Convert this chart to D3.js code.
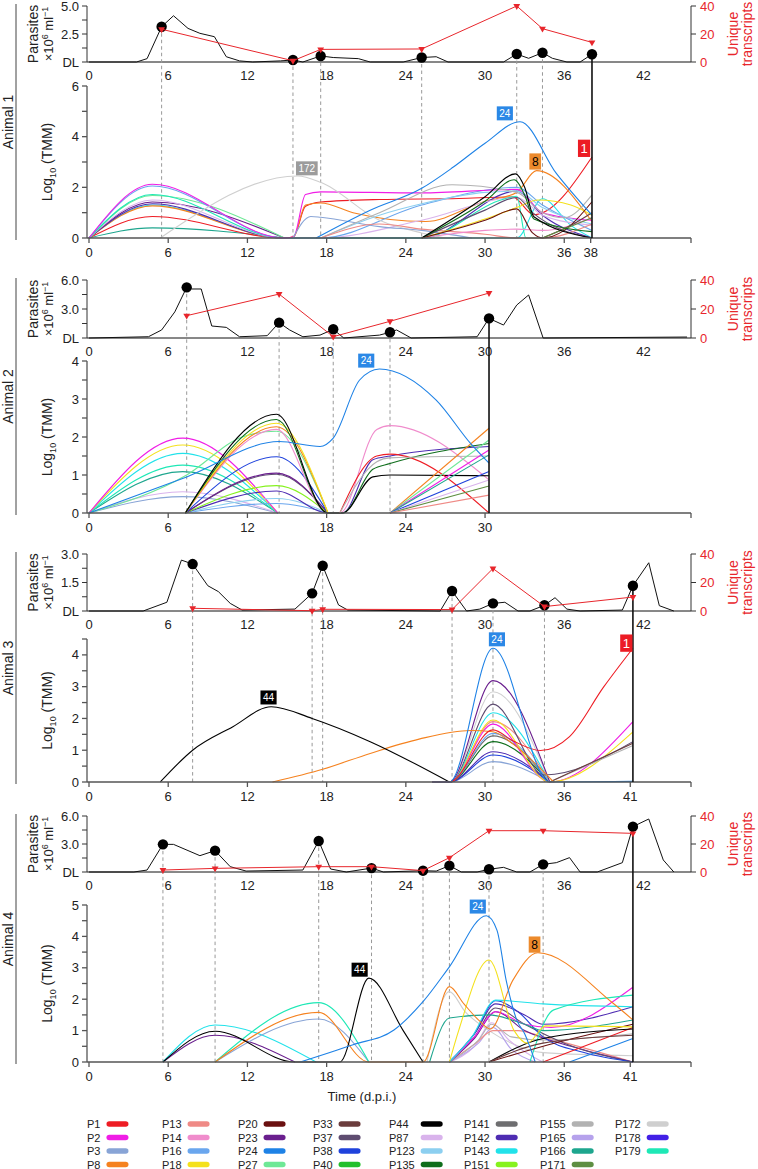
<!DOCTYPE html>
<html><head><meta charset="utf-8">
<script src="https://cdn.jsdelivr.net/npm/d3@7"></script>
<style>
body{margin:0;background:#fff}
svg{display:block}
text{font-family:"Liberation Sans",Arial,Helvetica,sans-serif;fill:#222}
</style></head>
<body><svg id="c" width="758" height="1169"></svg>
<script>
// ---------------- DATA ----------------
const legendIds = ["P1","P2","P3","P8","P13","P14","P16","P18","P20","P23","P24","P27","P33","P37","P38","P40","P44","P87","P123","P135","P141","P142","P143","P151","P155","P165","P166","P171","P172","P178","P179"];
const legendColors = ["#ee1c24","#f01de6","#88a4d6","#f5821f","#ef8a86","#f08ccc","#6aa6ee","#f4e11c","#6a1010","#6a1f8e","#1e82e6","#6ee896","#6b3c3c","#5e4c70","#1f42dc","#22c02c","#000000","#d9b3ec","#8ccff0","#0f6e1c","#6e6e70","#4e2cb2","#22e2ea","#86f21e","#b2b2b2","#b6a2ec","#1ea68e","#5e8e42","#cfcfcf","#4220e6","#1ee8b6"];

const animalNames = ["Animal 1","Animal 2","Animal 3","Animal 4"];
const topXTicks = [0,6,12,18,24,30,36,42];
const rightTicks = [0,20,40];

// Animal 1
const a1TopTicks = [[0,"DL"],[2.5,"2.5"],[5,"5.0"]];
const a1BotTicks = [0,2,4,6];
const a1XTicks = [0,6,12,18,24,30,36,38];
const a1ParDays = [0,3.6,4.4,5.5,6.4,7.5,8.4,9.5,10.4,11.4,12.4,14.5,15.45,16.2,17.55,18.5,20.4,21.3,23.8,25.2,26.3,27.2,31.4,32.4,33.3,34.35,35.1,36.2,37.2,38.1];
const a1ParVals = [0,0,0.3,3.15,4.13,3.0,2.56,2.26,0.47,0.1,0,0.1,0.18,0,0.54,0.4,0.3,0,0,0.4,0.47,0,0,0.71,0.33,0.83,0.33,0,0,0.69];
const a1SampleDays = [5.5,15.45,17.55,25.2,32.4,34.35,38.1];
const a1DotVals = [3.15,0.18,0.54,0.4,0.71,0.83,0.69];
const a1Unique = [23.4,0.9,9,9.3,40,23.8,14];
const a1Series = [
 ["P166",[[0,0],[4.8,0.4],[14.8,0]]],
 ["P1",[[0,0],[4.8,0.85],[14.8,0],[15.5,0.05],[16.4,1.25],[17.55,1.42],[22,1.52],[28,1.56],[32.1,1.62],[33.7,0.92],[38.1,3.2]]],
 ["P143",[[0,0],[4.8,1.3],[14.8,0],[32.4,0],[34.35,1.55],[36.5,0.5],[38.1,0]]],
 ["P8",[[0,0],[4.8,1.27],[14.8,0],[15.5,0.05],[16.4,1.3],[17.55,1.38],[20,1.0],[25.5,0.65],[30,1.45],[32.4,1.8],[33.9,2.66],[38.1,0.65]]],
 ["P142",[[0,0],[4.8,1.35],[14.8,0],[25.2,0],[32.4,1.85],[34.35,0.9],[38.1,0]]],
 ["P23",[[0,0],[4.8,1.42],[14.8,0]]],
 ["P87",[[0,0],[4.8,1.5],[14.8,0],[17.55,0],[25.2,0.7],[32.4,1.6],[34.35,0.9],[38.1,0.5]]],
 ["P27",[[0,0],[4.8,1.68],[14.8,0]]],
 ["P179",[[0,0],[4.8,1.72],[14.8,0],[25.2,0],[31.2,1.5],[32.4,1.65],[33.1,0],[34.35,0]]],
 ["P16",[[0,0],[4.8,2.05],[14.8,0],[17.55,0],[25.2,1.3],[32.4,2.0],[34.35,1.3],[38.1,0.3]]],
 ["P2",[[0,0],[4.8,2.12],[14.8,0],[15.5,0.05],[16.4,1.72],[17.55,1.82],[25.2,1.78],[32.4,1.92],[34.35,1.0],[38.1,0.7]]],
 ["P172",[[5.4,0],[15.8,2.45],[17.55,2.2],[22,0.7],[25.2,0.2],[27,0]]],
 ["P3",[[15.45,0],[16.8,0.85],[17.55,0.82],[22,0.45],[25.2,0.3],[29,0]]],
 ["P123",[[17.55,0],[22,0.9],[25.2,1.35],[30,1.8],[32.4,1.85],[34.35,1.2],[38.1,0.55]]],
 ["P155",[[17.55,0],[22,1.0],[27.5,2.1],[32.4,1.8],[34.35,1.0],[36,0.8],[38.1,1.7]]],
 ["P13",[[17.55,0],[22,0.55],[25.2,0.35],[30,0.15],[32.4,0],[34.35,0],[38.1,0.55]]],
 ["P14",[[25.2,0],[30,0.3],[32.4,0.35],[34.35,0.3],[38.1,0.8]]],
 ["P18",[[25.2,0],[30,0.75],[32.4,1.2],[34,1.5],[36.5,1.3],[38.1,0.9]]],
 ["P37",[[25.2,0],[30,1.1],[32.4,1.6],[33.6,1.0],[38.1,0]]],
 ["P20",[[25.2,0],[30,0.7],[32.4,1.15],[33.6,0.2],[34.35,0],[36,0.3],[38.1,1.43]]],
 ["P33",[[34.35,0],[36.5,0.5],[38.1,1.0]]],
 ["P171",[[34.35,0],[38.1,0.8]]],
 ["P135",[[25.2,0],[30,1.45],[32.2,2.3],[33.0,1.7],[33.7,0.75],[38.1,0.25]]],
 ["P44",[[25.2,0],[30,1.63],[32.3,2.53],[33.0,2.0],[33.7,0.84],[38.1,0]]],
 ["P24",[[17.2,0],[21.3,1.1],[25.2,1.96],[27.6,2.8],[30,3.74],[32.65,4.59],[35.4,2.55],[38.1,0.9]]]
];
const a1Labels = [["172",16.5,2.75],["24",31.5,4.92],["8",33.8,3.02],["1",37.5,3.54]];

// Animal 2
const a2TopTicks = [[0,"DL"],[3,"3.0"],[6,"6.0"]];
const a2BotTicks = [0,1,2,3,4];
const a2XTicks = [0,6,12,18,24,30];
const a2ParDays = [0,4.5,5.5,6.5,7.4,7.8,8.5,9.3,10.4,11.4,13.5,14.4,15.2,16.2,17.5,18.5,19.3,22.0,22.8,23.3,24.4,29.4,30.3,31.4,32.4,33.3,34.4,45.3];
const a2ParVals = [0,0.13,0.83,2.7,5.24,5.07,5.07,1.24,1.1,0.13,0.24,1.59,0.83,0.13,0.3,0.9,0,0.3,0.59,0.83,0,0.13,2.03,1.34,3.41,4.45,0,0.1];
const a2SampleDays = [7.4,14.4,18.5,22.8,30.3];
const a2DotVals = [5.24,1.59,0.9,0.59,2.03];
const a2Unique = [15.4,30.3,0.9,11.5,31];
const a2Series = [
 ["P3",[[0,0],[7.1,0.43],[14.3,0]]],
 ["P87",[[0,0],[7.1,0.56],[14.3,0]]],
 ["P166",[[0,0],[7.1,1.09],[14.3,0]]],
 ["P179",[[0,0],[7.1,1.26],[14.3,0]]],
 ["P143",[[0,0],[7.1,1.57],[14.3,0]]],
 ["P18",[[0,0],[7.1,1.79],[14.3,0]]],
 ["P2",[[0,0],[7.1,1.97],[14.3,0]]],
 ["P16",[[7.3,0],[14.2,0.25],[18.1,0]]],
 ["P123",[[7.3,0],[14.2,0.38],[18.1,0]]],
 ["P142",[[7.3,0],[14.2,0.58],[18.1,0],[19.2,0],[21.5,1.4],[22.8,1.5],[30.3,1.75]]],
 ["P151",[[7.3,0],[14.2,0.72],[18.1,0]]],
 ["P37",[[7.3,0],[14.2,1.02],[18.1,0]]],
 ["P23",[[7.3,0],[14.2,1.05],[18.1,0]]],
 ["P38",[[7.3,0],[14.2,1.48],[18.1,0]]],
 ["P27",[[0,0],[7.4,1.0],[11.6,2.0],[14.2,2.15],[18.1,0]]],
 ["P14",[[7.3,0],[14.2,2.2],[18.1,0],[19.0,0],[21.8,2.2],[22.8,2.3],[30.3,0.87]]],
 ["P8",[[7.3,0],[14.2,2.27],[18.1,0]]],
 ["P18",[[7.3,0],[14.2,2.36],[18.1,0]]],
 ["P135",[[7.3,0],[14.2,2.46],[18.1,0],[19.2,0],[21.5,1.15],[22.8,1.3],[30.3,1.83]]],
 ["P44",[[7.3,0],[14.2,2.6],[18.1,0],[19.2,0],[21.5,0.95],[22.8,1.0],[30.3,0.98]]],
 ["P1",[[19.0,0],[21.8,1.5],[22.8,1.55],[30.3,0]]],
 ["P155",[[19.0,0],[21.8,1.35],[22.8,1.45],[30.3,1.5]]],
 ["P8",[[22.8,0],[30.3,2.23]]],
 ["P27",[[22.8,0],[30.3,1.92]]],
 ["P2",[[22.8,0],[30.3,1.66]]],
 ["P166",[[22.8,0],[30.3,1.53]]],
 ["P38",[[22.8,0],[30.3,1.09]]],
 ["P87",[[22.8,0],[30.3,0.87]]],
 ["P171",[[22.8,0],[30.3,0.71]]],
 ["P13",[[22.8,0],[30.3,0.47]]],
 ["P24",[[0,0],[7.4,0.95],[14.4,1.88],[17.5,1.75],[18.5,1.97],[20.5,3.5],[22.0,3.79],[26.3,2.97],[28.9,1.83],[30.3,1.31]]]
];
const a2Labels = [["24",21.0,4.01]];

// Animal 3
const a3TopTicks = [[0,"DL"],[1.5,"1.5"],[3,"3.0"]];
const a3BotTicks = [0,1,2,3,4];
const a3XTicks = [0,6,12,18,24,30,36,41];
const a3ParDays = [0,4.1,5.9,7.0,7.85,9.0,9.8,10.7,11.6,15.6,16.9,17.7,18.9,19.6,26.6,27.5,28.6,29.6,30.6,31.5,32.5,33.4,34.5,35.3,36.2,37.2,40.4,41.2,42.4,43.2,44.3];
const a3ParVals = [0,0,0.46,2.68,2.47,1.33,1.02,0.4,0.05,0.1,0.93,2.38,0.32,0.05,0,1.05,0,0.1,0.4,0.46,0,0,0.3,0.7,0.1,0,0.05,1.33,2.54,0.28,0];
const a3SampleDays = [7.85,16.9,17.7,27.5,30.6,34.5,41.2];
const a3DotVals = [2.47,0.93,2.38,1.05,0.4,0.3,1.33];
const a3Unique = [1.9,0.2,1.2,1.0,29.8,3.1,9.8];
const a3Series = [
 ["P3",[[26,0],[27.3,0],[30.6,0.64],[34.9,0]]],
 ["P38",[[26,0],[27.3,0],[30.6,0.85],[34.9,0]]],
 ["P142",[[26,0],[27.3,0],[30.6,0.95],[34.9,0]]],
 ["P135",[[26,0],[27.3,0],[30.6,1.27],[34.9,0]]],
 ["P141",[[26,0],[27.3,0],[30.6,1.45],[34.9,0]]],
 ["P16",[[26,0],[27.3,0],[30.6,1.53],[34.9,0]]],
 ["P13",[[26,0],[27.3,0],[30.6,1.9],[34.9,0]]],
 ["P2",[[26,0],[27.3,0],[30.6,1.82],[34.9,0],[41.2,1.9]]],
 ["P18",[[26,0],[27.3,0],[30.6,1.95],[34.9,0],[41.2,1.58]]],
 ["P143",[[26,0],[27.3,0],[30.6,2.18],[34.9,0]]],
 ["P37",[[26,0],[27.3,0],[30.6,2.45],[34.5,0.22],[41.2,1.27]]],
 ["P172",[[26,0],[27.3,0],[30.6,2.84],[34.9,0]]],
 ["P23",[[26,0],[27.3,0],[30.6,3.19],[34.9,0]]],
 ["P155",[[34.9,0],[41.2,1.15]]],
 ["P33",[[34.9,0],[41.2,1.22]]],
 ["P8",[[13.9,0],[17.7,0.4],[21.3,0.9],[25,1.35],[28.9,1.62],[30.6,1.58],[32.1,1.2],[35.2,0]]],
 ["P44",[[5.4,0],[7.85,1.0],[10.9,1.74],[13.8,2.37],[16.9,2.0],[21.3,1.27],[27.3,0]]],
 ["P1",[[26,0],[27.3,0],[30.6,1.64],[32.1,1.3],[34.2,0.99],[36.4,1.43],[39,3.0],[41.2,4.21]]],
 ["P24",[[26,0],[27.3,0],[30.6,4.21],[34.9,0],[41.2,0.02]]]
];
const a3Labels = [["44",13.6,2.66],["24",30.9,4.49],["1",40.7,4.37]];

// Animal 4
const a4TopTicks = [[0,"DL"],[3,"3.0"],[6,"6.0"]];
const a4BotTicks = [0,1,2,3,4,5];
const a4XTicks = [0,6,12,18,24,30,36,41];
const a4ParDays = [0,3.4,4.4,5.6,6.4,8.4,9.55,10.7,11.9,16.2,17.4,18.3,19.5,21.4,22.3,25.3,26.3,27.3,28.2,29.4,30.3,31.4,32.4,33.4,34.4,35.4,36.4,37.2,38.5,40.4,41.2,42.4,43.5,44.3];
const a4ParVals = [0,0,0.21,2.96,2.96,1.75,2.29,0.57,0.1,0.21,3.32,0.32,0,0.42,0,0.14,0.1,0.68,0,0,0.29,0.5,0,0,0.82,1.0,1.54,0,0,1.0,4.86,5.68,1.29,0];
const a4SampleDays = [5.6,9.55,17.4,21.4,25.3,27.3,30.3,34.4,41.2];
const a4DotVals = [2.96,2.29,3.32,0.42,0.14,0.68,0.29,0.82,4.86];
const a4Unique = [1.4,2.6,3.8,3.8,1,10.2,29.5,29.5,27.6];
const a4Series = [
 ["P23",[[5.6,0],[9.55,0.85],[15.6,0]]],
 ["P143",[[5.6,0],[9.55,1.18],[17.2,0]]],
 ["P3",[[9.55,0],[17.4,1.37],[21.2,0]]],
 ["P179",[[9.55,0],[17.4,1.89],[21.2,0]]],
 ["P172",[[25.6,0],[27.3,2.24],[28.5,1.6],[30.3,1.0],[32,0.6],[34.4,0.3],[41.2,0.2]]],
 ["P87",[[27.3,0],[29.2,0.5],[30.5,1.25],[31.8,0.7],[33.5,0.2],[34.4,0]]],
 ["P165",[[27.3,0],[29.5,0.6],[30.6,1.1],[32,0.4],[33.8,0]]],
 ["P13",[[27.3,0],[29.3,0.6],[30.6,1.0],[32.5,1.0],[34.4,0.8],[41.2,0]]],
 ["P155",[[27.3,0],[29.5,0.7],[30.5,1.2],[32,0.8],[34.4,0.7],[41.2,0.9]]],
 ["P23",[[27.3,0],[29.2,0.75],[30.8,1.6],[33,1.0],[36.5,0.5],[41.2,0]]],
 ["P37",[[27.3,0],[29.2,0.8],[30.8,1.72],[33,1.2],[36,0.6],[41.2,0]]],
 ["P38",[[27.3,0],[29.2,0.9],[30.8,1.95],[32.5,1.6],[34.4,0.8],[37.5,0.3],[41.2,0]]],
 ["P142",[[27.3,0],[29.2,0.9],[30.8,1.85],[33,1.5],[34.4,1.2],[41.2,1.76]]],
 ["P2",[[27.3,0],[29.2,0.8],[30.8,1.6],[33,1.2],[35,1.1],[41.2,2.38]]],
 ["P166",[[25.8,0],[27.3,1.4],[30.3,1.5],[33,1.2],[34.4,1.0],[41.2,1.34]]],
 ["P143",[[27.3,0],[29,0.8],[30.8,1.97],[34.4,1.85],[41.2,1.76]]],
 ["P179",[[33.4,0],[35.2,1.66],[41.2,2.13]]],
 ["P1",[[34.4,0],[41.2,1.1]]],
 ["P20",[[30.3,0],[34.4,0.5],[41.2,1.2]]],
 ["P44",[[30.3,0],[34.4,0.75],[41.2,1.05]]],
 ["P33",[[30.3,0],[34.4,0.6],[41.2,0.85]]],
 ["P24",[[36.4,0],[41.2,0.75]]],
 ["P18",[[27.3,0],[28.0,1.0],[30.3,3.25],[32.2,1.0],[33.2,0.6],[34.6,1.15],[41.2,1.12]]],
 ["P8",[[9.55,0],[17.4,1.58],[21.2,0],[25.3,0],[27.3,2.4],[28.4,1.85],[29.6,1.3],[30.4,1.05],[32.1,2.6],[34.0,3.48],[39.7,1.87],[41.2,1.34]]],
 ["P44",[[5.6,0],[9.55,0.98],[15.6,0],[19.0,0],[21.2,2.67],[23.8,1.0],[25.3,0]]],
 ["P24",[[16.0,0],[20,0.55],[23.1,1.02],[25.3,1.92],[27.3,3.03],[30.1,4.66],[30.9,4.2],[31.6,2.6],[32.4,1.34],[33.0,0.9],[33.8,0]]]
];
const a4Labels = [["44",20.5,2.94],["24",29.45,4.95],["8",33.75,3.74]];

// ---------------- LAYOUT ----------------
const svg = d3.select("#c");
const AX_L = 87, AX_R = 691;
const x = d3.scaleLinear().domain([0, 45.6]).range([89, 691]);
const colorOf = new Map(legendIds.map((id, i) => [id, legendColors[i]]));
const RED = "#e8262c";
const labelStyle = {"24":["#2b88e6","#fff",10],"172":["#9c9c9c","#fff",10],"8":["#ec8a2c","#000",12],"1":["#ec1c24","#fff",13],"44":["#000","#fff",10]};

const layouts = [
 {topY0:62, topY1:6, topMax:5, topStep:1.25, botY0:238, botY1:86, botMax:6, botStep:1},
 {topY0:338, topY1:280, topMax:6, topStep:1.5, botY0:513, botY1:361, botMax:4, botStep:0.5},
 {topY0:611, topY1:554, topMax:3, topStep:0.75, botY0:782, botY1:639, botMax:4.5, botStep:0.5},
 {topY0:872, topY1:816, topMax:6, topStep:1.5, botY0:1062, botY1:905, botMax:5, botStep:0.5}
];
const animalData = [
 {topTicks:a1TopTicks, botTicks:a1BotTicks, xTicks:a1XTicks, parDays:a1ParDays, parVals:a1ParVals, sDays:a1SampleDays, dots:a1DotVals, uniq:a1Unique, series:a1Series, labels:a1Labels},
 {topTicks:a2TopTicks, botTicks:a2BotTicks, xTicks:a2XTicks, parDays:a2ParDays, parVals:a2ParVals, sDays:a2SampleDays, dots:a2DotVals, uniq:a2Unique, series:a2Series, labels:a2Labels},
 {topTicks:a3TopTicks, botTicks:a3BotTicks, xTicks:a3XTicks, parDays:a3ParDays, parVals:a3ParVals, sDays:a3SampleDays, dots:a3DotVals, uniq:a3Unique, series:a3Series, labels:a3Labels},
 {topTicks:a4TopTicks, botTicks:a4BotTicks, xTicks:a4XTicks, parDays:a4ParDays, parVals:a4ParVals, sDays:a4SampleDays, dots:a4DotVals, uniq:a4Unique, series:a4Series, labels:a4Labels}
];

function rotText(g, tx, ty, size, fill) {
  return g.append("text").attr("transform", `translate(${tx},${ty}) rotate(-90)`)
    .attr("text-anchor", "middle").attr("font-size", size).style("fill", fill || "#222");
}

function drawAnimal(name, L, D) {
  const g = svg.append("g");
  const yT = d3.scaleLinear().domain([0, L.topMax]).range([L.topY0, L.topY1]);
  const yR = d3.scaleLinear().domain([0, 40]).range([L.topY0, L.topY1]);
  const yB = d3.scaleLinear().domain([0, L.botMax]).range([L.botY0, L.botY1]);
  const last = D.sDays.length - 1;

  // bracket + animal title
  g.append("line").attr("x1", 16).attr("x2", 16).attr("y1", L.topY1 - 2).attr("y2", L.botY0 + 2)
    .attr("stroke", "#444").attr("stroke-width", 1);
  rotText(g, 13, (L.topY1 + L.botY0) / 2, 14).text(name);

  // axis titles
  const tcy = (L.topY0 + L.topY1) / 2;
  rotText(g, 38, tcy, 14).text("Parasites");
  const t2 = rotText(g, 53, tcy, 13);
  t2.append("tspan").text("×10");
  t2.append("tspan").attr("dy", -5).attr("font-size", 9).text("6");
  t2.append("tspan").attr("dy", 5).text(" ml");
  t2.append("tspan").attr("dy", -5).attr("font-size", 9).text("−1");
  rotText(g, 738, tcy, 14, RED).text("Unique");
  rotText(g, 752, tcy, 14, RED).text("transcripts");
  const bcy = (L.botY0 + L.botY1) / 2;
  const t3 = rotText(g, 52, bcy, 14);
  t3.append("tspan").text("Log");
  t3.append("tspan").attr("dy", 4).attr("font-size", 9).text("10");
  t3.append("tspan").attr("dy", -4).text(" (TMM)");

  // ---- top panel axes
  g.append("line").attr("x1", AX_L).attr("x2", AX_R).attr("y1", L.topY0).attr("y2", L.topY0).attr("stroke", "#111");
  g.append("line").attr("x1", AX_L).attr("x2", AX_L).attr("y1", L.topY0).attr("y2", L.topY1).attr("stroke", "#333");
  const tt = d3.range(0, L.topMax + 1e-6, L.topStep);
  g.selectAll(null).data(tt).join("line").attr("x1", AX_L - 5).attr("x2", AX_L)
    .attr("y1", d => yT(d)).attr("y2", d => yT(d)).attr("stroke", "#333");
  g.selectAll(null).data(D.topTicks).join("text").attr("x", AX_L - 8).attr("y", d => yT(d[0]) + 4.5)
    .attr("text-anchor", "end").attr("font-size", 13).text(d => d[1]);
  g.selectAll(null).data(topXTicks).join("text").attr("x", d => x(d)).attr("y", L.topY0 + 18)
    .attr("text-anchor", "middle").attr("font-size", 13).text(d => d);
  // right axis
  g.append("line").attr("x1", AX_R).attr("x2", AX_R).attr("y1", L.topY0).attr("y2", L.topY1).attr("stroke", "#333");
  g.selectAll(null).data(rightTicks).join("line").attr("x1", AX_R).attr("x2", AX_R + 5)
    .attr("y1", d => yR(d)).attr("y2", d => yR(d)).attr("stroke", "#333");
  g.selectAll(null).data(rightTicks).join("text").attr("x", AX_R + 9).attr("y", d => yR(d) + 4.5)
    .attr("font-size", 13).style("fill", RED).text(d => d);

  // ---- bottom panel axes
  g.append("line").attr("x1", AX_L).attr("x2", AX_L).attr("y1", L.botY0).attr("y2", L.botY1).attr("stroke", "#555").attr("stroke-width", 1.3);
  const bt = d3.range(0, L.botMax + 1e-6, L.botStep);
  g.selectAll(null).data(bt).join("line").attr("x1", AX_L - 5).attr("x2", AX_L)
    .attr("y1", d => yB(d)).attr("y2", d => yB(d)).attr("stroke", "#555").attr("stroke-width", 1.3);
  g.selectAll(null).data(D.botTicks).join("text").attr("x", AX_L - 8).attr("y", d => yB(d) + 4.5)
    .attr("text-anchor", "end").attr("font-size", 13).text(d => d);

  // dashed sample lines
  g.selectAll(null).data(D.sDays.slice(0, last)).join("line")
    .attr("x1", d => x(d)).attr("x2", d => x(d))
    .attr("y1", (d, i) => yT(D.dots[i])).attr("y2", L.botY0)
    .attr("stroke", "#999").attr("stroke-width", 1).attr("stroke-dasharray", "3.5,3");

  // curves
  const line = d3.line().x(d => x(d[0])).y(d => yB(d[1])).curve(d3.curveMonotoneX);
  g.selectAll(null).data(D.series).join("path").attr("d", d => line(d[1]))
    .attr("fill", "none").attr("stroke", d => colorOf.get(d[0])).attr("stroke-width", 1.1);

  // bottom x axis
  g.append("line").attr("x1", AX_L).attr("x2", AX_R).attr("y1", L.botY0).attr("y2", L.botY0).attr("stroke", "#555").attr("stroke-width", 1.3);
  g.selectAll(null).data(D.xTicks).join("line").attr("x1", d => x(d)).attr("x2", d => x(d))
    .attr("y1", L.botY0).attr("y2", L.botY0 + 5).attr("stroke", "#555").attr("stroke-width", 1.3);
  g.append("line").attr("x1", AX_R).attr("x2", AX_R).attr("y1", L.botY0).attr("y2", L.botY0 + 5).attr("stroke", "#555").attr("stroke-width", 1.3);
  g.selectAll(null).data(D.xTicks).join("text").attr("x", d => x(d)).attr("y", L.botY0 + 19)
    .attr("text-anchor", "middle").attr("font-size", 13).text(d => d);

  // last sample: solid line
  g.append("line").attr("x1", x(D.sDays[last])).attr("x2", x(D.sDays[last]))
    .attr("y1", yT(D.dots[last])).attr("y2", L.botY0).attr("stroke", "#111").attr("stroke-width", 1.6);

  // labels
  D.labels.forEach(([txt, day, val]) => {
    const st = labelStyle[txt];
    const lg = g.append("g").attr("transform", `translate(${x(day)},${yB(val)})`);
    const te = lg.append("text").attr("text-anchor", "middle").attr("y", st[2] * 0.36)
      .attr("font-size", st[2]).style("fill", st[1]).text(txt);
    const w = te.node().getComputedTextLength();
    lg.insert("rect", "text").attr("x", -w / 2 - 2.5).attr("y", -st[2] * 0.55 - 1.5)
      .attr("width", w + 5).attr("height", st[2] * 1.1 + 3).attr("fill", st[0]);
  });

  // parasites line
  const pl = d3.line().x((d, i) => x(D.parDays[i])).y(d => yT(d));
  g.append("path").attr("d", pl(D.parVals)).attr("fill", "none").attr("stroke", "#111").attr("stroke-width", 1);
  // dots
  g.selectAll(null).data(D.sDays).join("circle").attr("cx", d => x(d)).attr("cy", (d, i) => yT(D.dots[i]))
    .attr("r", 5.2).attr("fill", "#000");
  // unique transcripts
  const ul = d3.line().x((d, i) => x(D.sDays[i])).y(d => yR(d));
  g.append("path").attr("d", ul(D.uniq)).attr("fill", "none").attr("stroke", RED).attr("stroke-width", 1);
  const tri = d3.symbol().type(d3.symbolTriangle).size(20);
  g.selectAll(null).data(D.uniq).join("path").attr("d", tri)
    .attr("transform", (d, i) => `translate(${x(D.sDays[i])},${yR(d)}) rotate(180)`).attr("fill", RED);
}

animalNames.forEach((n, i) => drawAnimal(n, layouts[i], animalData[i]));

svg.append("text").attr("x", 362).attr("y", 1101).attr("text-anchor", "middle").attr("font-size", 13).text("Time (d.p.i.)");

// legend
const colX = [87, 162, 238, 313, 389, 464, 540, 615];
const rowY = [1124, 1137.5, 1151, 1164.5];
const lg = svg.append("g");
const nCols = Math.ceil(legendIds.length / 4);
for (let c = 0; c < nCols; c++) {
  const ids = legendIds.slice(c * 4, c * 4 + 4);
  let maxW = 0;
  const texts = ids.map((id, r) => {
    const t = lg.append("text").attr("x", colX[c]).attr("y", rowY[r] + 4).attr("font-size", 11).text(id);
    maxW = Math.max(maxW, t.node().getComputedTextLength());
    return t;
  });
  ids.forEach((id, r) => {
    lg.append("rect").attr("x", colX[c] + maxW + 6).attr("y", rowY[r] - 2.8).attr("width", 22).attr("height", 5.6)
      .attr("rx", 2.8).attr("fill", colorOf.get(id));
  });
}
</script></body></html>
